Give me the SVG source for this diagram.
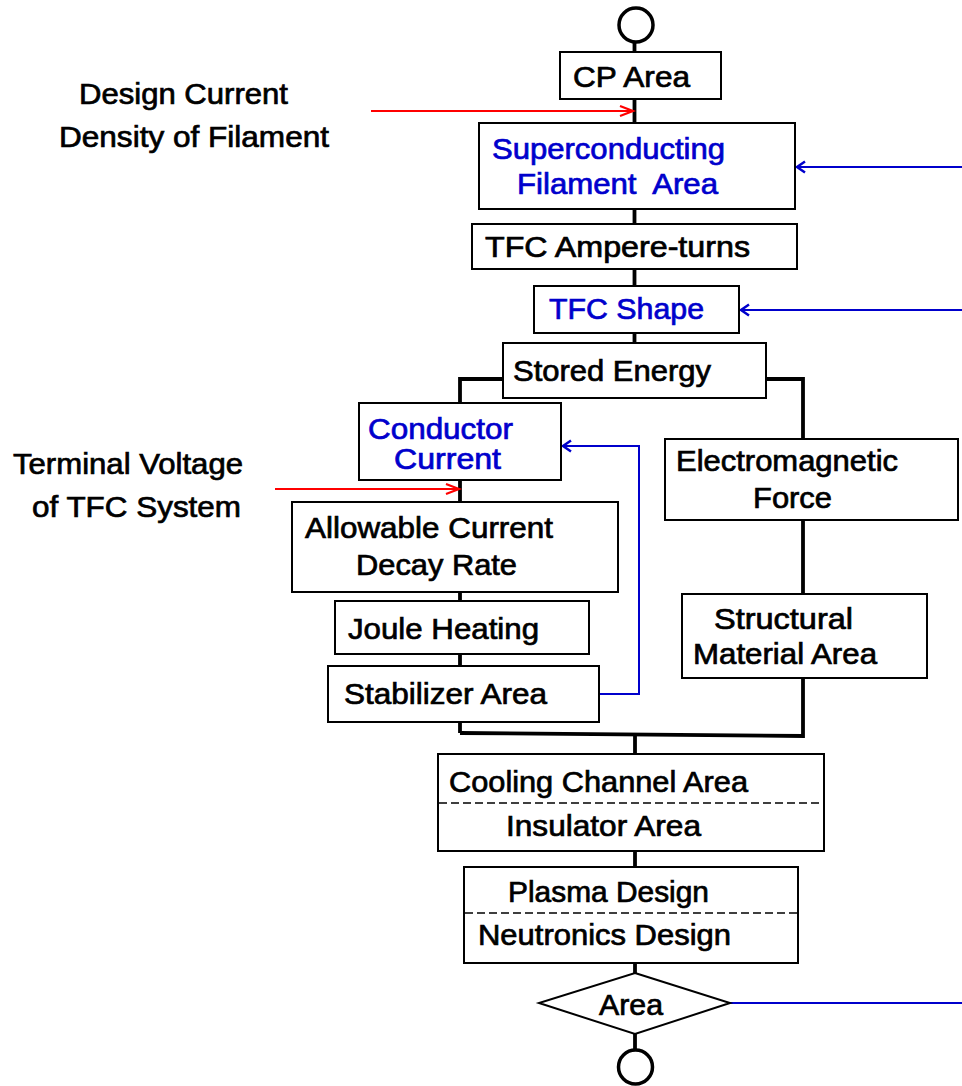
<svg xmlns="http://www.w3.org/2000/svg" width="962" height="1086" viewBox="0 0 962 1086">
<style>
.box{fill:#fff;stroke:#000;stroke-width:2}
.t{font-family:"Liberation Sans",Arial,sans-serif;font-size:29px;fill:#000;stroke:#000;stroke-width:0.7}
.b{fill:#0000cc;stroke:#0000cc}
.main{fill:none;stroke:#000;stroke-width:3.8}
.red{fill:none;stroke:#ff0000;stroke-width:2}
.blue{fill:none;stroke:#0000cc;stroke-width:2}
.dash{stroke:#000;stroke-width:1.6;stroke-dasharray:8,4}
</style>
<defs>
<marker id="ar" markerUnits="userSpaceOnUse" markerWidth="20" markerHeight="14" viewBox="-14 -7 16 14" refX="0" refY="0" orient="auto">
<path d="M-13,-5 L0,0 L-13,5" fill="none" stroke="#ff0000" stroke-width="2.2"/>
</marker>
<marker id="ab" markerUnits="userSpaceOnUse" markerWidth="20" markerHeight="14" viewBox="-14 -7 16 14" refX="0" refY="0" orient="auto">
<path d="M-8,-5.5 L0,0 L-8,5.5" fill="none" stroke="#0000cc" stroke-width="2.5"/>
</marker>
</defs>
<g id="connectors">
<line class="main" x1="634.5" y1="42" x2="634.5" y2="343"/>
<polyline class="main" points="503,379 460,379 460,733"/>
<polyline class="main" points="766,379 803,379 803,736 460,733"/>
<line class="main" x1="635" y1="734" x2="635" y2="973"/>
<line class="main" x1="635" y1="1034" x2="635" y2="1050"/>
<line class="red" x1="371" y1="111" x2="633" y2="111" marker-end="url(#ar)"/>
<line class="red" x1="275" y1="489" x2="459" y2="489" marker-end="url(#ar)"/>
<line class="blue" x1="962" y1="167" x2="797" y2="167" marker-end="url(#ab)"/>
<line class="blue" x1="962" y1="310" x2="741" y2="310" marker-end="url(#ab)"/>
<polyline class="blue" points="599,694 639,694 639,446 563,446" marker-end="url(#ab)"/>
<line class="blue" x1="730" y1="1003" x2="962" y2="1003"/>
</g>
<g id="start"><circle cx="636" cy="25" r="17" fill="#fff" stroke="#000" stroke-width="3.5"/></g>
<g id="end"><circle cx="635.5" cy="1067" r="17" fill="#fff" stroke="#000" stroke-width="3.5"/></g>
<g id="in-design-current">
<text class="t" x="79" y="104" textLength="209" lengthAdjust="spacingAndGlyphs">Design Current</text>
<text class="t" x="59" y="147" textLength="270" lengthAdjust="spacingAndGlyphs">Density of Filament</text>
</g>
<g id="in-terminal-voltage">
<text class="t" x="13" y="474" textLength="230" lengthAdjust="spacingAndGlyphs">Terminal Voltage</text>
<text class="t" x="32" y="517" textLength="209" lengthAdjust="spacingAndGlyphs">of TFC System</text>
</g>
<g id="cp-area">
<rect class="box" x="560" y="52" width="161" height="47"/>
<text class="t" x="573" y="87" textLength="117" lengthAdjust="spacingAndGlyphs">CP Area</text>
</g>
<g id="filament-area">
<rect class="box" x="479" y="123" width="316" height="86"/>
<text class="t b" x="492" y="159" textLength="233" lengthAdjust="spacingAndGlyphs">Superconducting</text>
<text class="t b" x="517" y="194" textLength="201" lengthAdjust="spacingAndGlyphs" xml:space="preserve">Filament  Area</text>
</g>
<g id="ampere-turns">
<rect class="box" x="472" y="224" width="325" height="45"/>
<text class="t" x="485" y="257" textLength="265" lengthAdjust="spacingAndGlyphs">TFC Ampere-turns</text>
</g>
<g id="tfc-shape">
<rect class="box" x="534" y="286" width="205" height="47"/>
<text class="t b" x="549" y="319" textLength="155" lengthAdjust="spacingAndGlyphs">TFC Shape</text>
</g>
<g id="stored-energy">
<rect class="box" x="503" y="343" width="263" height="55"/>
<text class="t" x="513" y="381" textLength="198" lengthAdjust="spacingAndGlyphs">Stored Energy</text>
</g>
<g id="conductor-current">
<rect class="box" x="359" y="403" width="202" height="77"/>
<text class="t b" x="368" y="439" textLength="145" lengthAdjust="spacingAndGlyphs">Conductor</text>
<text class="t b" x="394" y="469" textLength="107" lengthAdjust="spacingAndGlyphs">Current</text>
</g>
<g id="decay-rate">
<rect class="box" x="292" y="502" width="326" height="90"/>
<text class="t" x="305" y="538" textLength="248" lengthAdjust="spacingAndGlyphs">Allowable Current</text>
<text class="t" x="356" y="575" textLength="161" lengthAdjust="spacingAndGlyphs">Decay Rate</text>
</g>
<g id="joule-heating">
<rect class="box" x="335" y="601" width="254" height="53"/>
<text class="t" x="348" y="639" textLength="191" lengthAdjust="spacingAndGlyphs">Joule Heating</text>
</g>
<g id="stabilizer-area">
<rect class="box" x="328" y="666" width="271" height="56"/>
<text class="t" x="344" y="704" textLength="203" lengthAdjust="spacingAndGlyphs">Stabilizer Area</text>
</g>
<g id="em-force">
<rect class="box" x="665" y="439" width="293" height="81"/>
<text class="t" x="676" y="471" textLength="222" lengthAdjust="spacingAndGlyphs">Electromagnetic</text>
<text class="t" x="753" y="508" textLength="79" lengthAdjust="spacingAndGlyphs">Force</text>
</g>
<g id="structural-area">
<rect class="box" x="682" y="594" width="245" height="84"/>
<text class="t" x="714" y="629" textLength="139" lengthAdjust="spacingAndGlyphs">Structural</text>
<text class="t" x="693" y="664" textLength="184" lengthAdjust="spacingAndGlyphs">Material Area</text>
</g>
<g id="cooling-insulator">
<rect class="box" x="438" y="754" width="386" height="97"/>
<line class="dash" x1="439" y1="803" x2="823" y2="803"/>
<text class="t" x="449" y="792" textLength="299" lengthAdjust="spacingAndGlyphs">Cooling Channel Area</text>
<text class="t" x="506" y="836" textLength="195" lengthAdjust="spacingAndGlyphs">Insulator Area</text>
</g>
<g id="plasma-neutronics">
<rect class="box" x="464" y="867" width="334" height="96"/>
<line class="dash" x1="465" y1="913" x2="797" y2="913"/>
<text class="t" x="508" y="902" textLength="201" lengthAdjust="spacingAndGlyphs">Plasma Design</text>
<text class="t" x="478" y="945" textLength="253" lengthAdjust="spacingAndGlyphs">Neutronics Design</text>
</g>
<g id="area-decision">
<polygon points="635,973 730,1003 635,1034 539,1003" fill="#fff" stroke="#000" stroke-width="2"/>
<text class="t" x="599" y="1015" textLength="64" lengthAdjust="spacingAndGlyphs">Area</text>
</g>
</svg>
